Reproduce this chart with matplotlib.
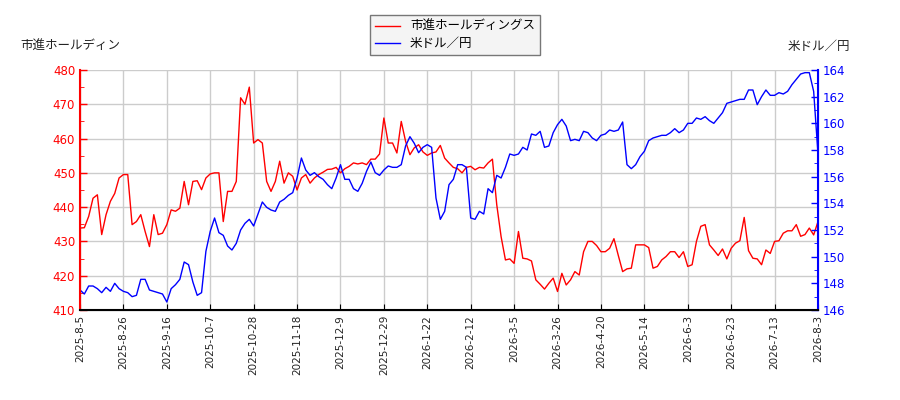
import matplotlib
matplotlib.use("Agg")
import matplotlib.pyplot as plt
from matplotlib.ticker import MultipleLocator, FixedLocator

plt.rcParams['font.family'] = ['Noto Sans CJK JP', 'DejaVu Sans']

tick_labels = ["2025-8-5", "2025-8-26", "2025-9-16", "2025-10-7", "2025-10-28",
               "2025-11-18", "2025-12-9", "2025-12-29", "2026-1-22", "2026-2-12",
               "2026-3-5", "2026-3-26", "2026-4-20", "2026-5-14", "2026-6-3",
               "2026-6-23", "2026-7-13", "2026-8-3"]

stock_name = "市進ホールディングス"
fx_name = "米ドル／円"
left_title = "市進ホールディン"

stock = [
    433.9, 434, 437.3, 442.6, 443.6, 432, 437.8, 441.7, 444, 448.5, 449.5,
    449.5, 434.9, 435.8, 437.8, 432.9, 428.5, 437.8, 432, 432.4, 434.9,
    439.2, 438.8, 439.7, 447.5, 440.7, 447.5, 447.7, 445.1, 448.5, 449.7,
    450, 450, 435.8, 444.6, 444.6, 447.5, 471.9, 470, 475, 458.7,
    459.7, 458.7, 447.5, 444.6, 447.5, 453.4, 447, 450, 449, 445,
    448.5, 449.5, 447, 448.5, 449.5, 450.2, 451, 451.1, 451.6, 450,
    451.2, 451.9, 452.9, 452.6, 452.9, 452.4, 454, 454, 455.5, 466,
    458.7, 458.7, 455.8, 465, 459.2, 455.3, 457.3, 458.2, 456.1, 455.1,
    455.8, 456.1, 458, 454.3, 452.9, 451.6, 451.2, 450, 451.6, 451.9,
    450.9, 451.6, 451.4, 452.9, 454, 440.7, 431.4, 424.6, 424.9, 423.6,
    432.9, 425.1, 424.9, 424.3, 418.8, 417.5, 416.1, 417.8, 419.3, 415.4,
    420.7, 417.3, 418.8, 421.2, 420.2, 427, 430, 430, 428.8, 427,
    427, 428, 430.8, 425.9, 421.2, 422, 422.2, 429, 429, 429,
    428.2, 422.2, 422.7, 424.6, 425.6, 427, 427, 425.3, 427, 422.7,
    423.2, 430, 434.4, 434.9, 429, 427.5, 425.9, 427.8, 424.9, 428,
    429.5, 430.2, 437, 427.3, 425.1, 424.9, 423.2, 427.5, 426.5, 430,
    430.2, 432.4, 433.1, 433.1, 434.9, 431.5, 432, 433.9, 431.9, 435.8,
]

usdjpy = [
    147.5, 147.2, 147.8, 147.8, 147.6, 147.3, 147.7, 147.4, 148.0, 147.6, 147.4,
    147.3, 147.0, 147.1, 148.3, 148.3, 147.5, 147.4, 147.3, 147.2, 146.6,
    147.6, 147.9, 148.3, 149.6, 149.4, 148.1, 147.1, 147.3, 150.4, 151.9,
    152.9, 151.8, 151.6, 150.8, 150.5, 151.0, 152.0, 152.5, 152.8, 152.3,
    153.2, 154.1, 153.7, 153.5, 153.4, 154.1, 154.3, 154.6, 154.8, 155.9,
    157.4, 156.5, 156.1, 156.3, 156.0, 155.8, 155.4, 155.1, 155.9, 156.9,
    155.8, 155.8, 155.1, 154.9, 155.5, 156.4, 157.1, 156.3, 156.1, 156.5,
    156.8, 156.7, 156.7, 156.9, 158.3, 159.0, 158.5, 157.8, 158.2, 158.4,
    158.2, 154.4, 152.8, 153.4, 155.4, 155.8, 156.9, 156.9, 156.7, 152.9,
    152.8, 153.4, 153.2, 155.1, 154.8, 156.1, 155.9, 156.7, 157.7, 157.6,
    157.7, 158.2, 158.0, 159.2, 159.1, 159.4, 158.2, 158.3, 159.3, 159.9,
    160.3, 159.8, 158.7, 158.8, 158.7, 159.4, 159.3, 158.9, 158.7, 159.1,
    159.2, 159.5, 159.4, 159.5, 160.1, 156.9, 156.6, 156.9, 157.5, 157.9,
    158.7, 158.9, 159.0, 159.1, 159.1, 159.3, 159.6, 159.3, 159.5, 160.0,
    160.0, 160.4, 160.3, 160.5, 160.2, 160.0, 160.4, 160.8, 161.5, 161.6,
    161.7, 161.8, 161.8, 162.5, 162.5, 161.4, 162.0, 162.5, 162.1, 162.1,
    162.3, 162.2, 162.4, 162.9, 163.3, 163.7, 163.8, 163.8, 162.4, 157.7,
]

n = len(stock)
x = list(range(n))
step = (n - 1) // (len(tick_labels) - 1)
tick_pos = [i * step for i in range(len(tick_labels))]

fig = plt.figure(figsize=(9, 4), dpi=100)
ax = fig.add_axes([80/900, 1-310/400, (818-80)/900, 240/400])
ax2 = ax.twinx()

l1, = ax.plot(x, stock, color='red', lw=1.0, label=stock_name)
l2, = ax2.plot(x, usdjpy, color='blue', lw=1.0, label=fx_name)

ax.set_xlim(0, n - 1)
ax.set_ylim(410, 480)
ax2.set_ylim(146, 164)

ax.xaxis.set_major_locator(FixedLocator(tick_pos))
ax.set_xticklabels(tick_labels, rotation=90, fontsize=7.5, family='DejaVu Sans')
ax.yaxis.set_major_locator(MultipleLocator(10))
ax.yaxis.set_minor_locator(MultipleLocator(5))
ax2.yaxis.set_major_locator(MultipleLocator(2))
ax2.yaxis.set_minor_locator(MultipleLocator(1))

ax.grid(True, which='major', color='#cccccc', lw=1.0)
ax.set_axisbelow(True)

for lab in ax.get_yticklabels():
    lab.set_family('DejaVu Sans')
for lab in ax2.get_yticklabels():
    lab.set_family('DejaVu Sans')

ax.tick_params(axis='y', colors='red', labelsize=8.5, direction='in', length=5, width=1)
ax.tick_params(axis='y', which='minor', colors='red', direction='in', length=3)
ax2.tick_params(axis='y', colors='blue', labelsize=8.5, direction='in', length=5, width=1)
ax2.tick_params(axis='y', which='minor', colors='blue', direction='in', length=3)
ax.tick_params(axis='x', direction='in', length=4, colors='black', labelcolor='#222222')

for a in (ax, ax2):
    a.spines['top'].set_visible(False)
ax2.spines['left'].set_color('red')
ax2.spines['left'].set_linewidth(1.5)
ax2.spines['right'].set_color('blue')
ax2.spines['right'].set_linewidth(1.5)
ax2.spines['bottom'].set_color('black')
ax2.spines['bottom'].set_linewidth(1.5)
ax.spines['left'].set_color('red')
ax.spines['right'].set_color('blue')

fig.text(20/900, 1-46/400, left_title, fontsize=9, ha='left', va='center', color='#222222')
fig.text(850/900, 1-46/400, fx_name, fontsize=9, ha='right', va='center', color='#222222')

leg = fig.legend(handles=[l1, l2], loc='upper center', bbox_to_anchor=(455/900, 1-9/400),
                 fontsize=9, fancybox=False, edgecolor='#777777', facecolor='#f4f4f4',
                 framealpha=1.0, handlelength=2.0, borderpad=0.4, labelspacing=0.3)
leg.get_frame().set_linewidth(1.0)

fig.savefig('out.png', dpi=100)
